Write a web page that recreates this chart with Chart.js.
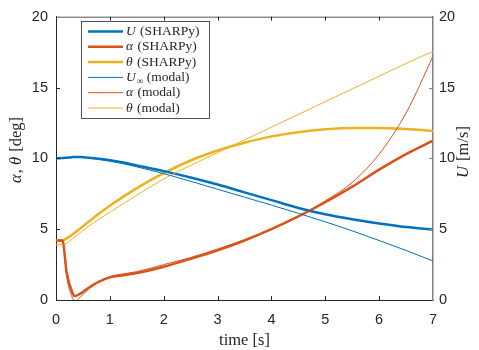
<!DOCTYPE html>
<html><head><meta charset="utf-8">
<script src="https://cdn.jsdelivr.net/npm/chart.js@4.4.0/dist/chart.umd.min.js"></script>
<style>html,body{margin:0;padding:0;background:#fff}#wrap{width:479px;height:350px}</style>
</head><body><div id="wrap"><canvas id="c"></canvas></div>
<script>
// time grid [s] and series
const timeS     =[0,   0.12, 0.2,  0.3,  0.35, 0.45, 0.6,  0.8,  1.0,  1.25, 1.5, 2.0,  2.5,  3.0,  3.5,  4.0,  4.5,  5.0,  5.5,  6.0,  6.5,  7.0];
const uSharpy   =[10.0,10.02,10.05,10.08,10.1, 10.1, 10.05,9.97, 9.87, 9.7,  9.5, 9.1,  8.65, 8.15, 7.6,  7.05, 6.5,  6.05, 5.7,  5.4,  5.15, 4.98];
const alphaSharpy=[4.2,4.2,  1.9,  0.55, 0.28, 0.45, 0.85, 1.3,  1.6,  1.75, 1.9, 2.35, 2.9,  3.5,  4.2,  5.0,  5.9,  6.9,  8.0,  9.2,  10.3, 11.25];
const thetaSharpy=[4.2,4.2,  4.35, 4.6,  4.75, 5.05, 5.5,  6.1,  6.65, 7.3,  7.9, 8.95, 9.85, 10.55,11.1, 11.55,11.85,12.05,12.15,12.15,12.07,11.93];
const uModal    =[10.0,10.02,10.05,10.07,10.08,10.07,10.02,9.92, 9.8,  9.62, 9.4, 8.92, 8.38, 7.82, 7.26, 6.7,  6.12, 5.52, 4.88, 4.2,  3.5,  2.75];
const alphaModal=[4.2, 4.2,  1.6,  0.2,  -0.08,0.2,  0.75, 1.3,  1.65, 1.85, 2.0, 2.5,  3.0,  3.6,  4.25, 5.0,  5.9,  7.0,  8.3,  10.3, 13.2, 17.2];
const thetaModal=[3.9, 3.9,  4.0,  4.3,  4.45, 4.75, 5.2,  5.7,  6.2,  6.8,  7.4, 8.55, 9.5,  10.4, 11.3, 12.2, 13.1, 14.0, 14.9, 15.8, 16.7, 17.55];
const xTicks=[0,1,2,3,4,5,6,7];
const yTicks=[0,5,10,15,20];

const C_BLUE='#0072BD', C_RED='#D95319', C_YEL='#EDB120', INK='#262626';
const SERIF='"Liberation Serif","DejaVu Serif",serif';
const SANS='"Liberation Sans",Arial,sans-serif';

const pts=arr=>arr.map((v,i)=>({x:timeS[i],y:v}));
function ds(label,arr,color,w,axis,ord){
  return {label,data:pts(arr),borderColor:color,backgroundColor:color,borderWidth:w,
    pointRadius:0,cubicInterpolationMode:'monotone',yAxisID:axis,order:ord,fill:false};
}

// legend rows: [parts, color, width]
const legendRows=[
  [[['U',1],[' (SHARPy)',0]],C_BLUE,2.5],
  [[['α',1],[' (SHARPy)',0]],C_RED,2.5],
  [[['θ',1],[' (SHARPy)',0]],C_YEL,2.5],
  [[['U',1],['∞',0,1],[' (modal)',0]],C_BLUE,1],
  [[['α',1],[' (modal)',0]],C_RED,1],
  [[['θ',1],[' (modal)',0]],C_YEL,1]
];

function richWidth(ctx,parts,size){
  let w=0;
  parts.forEach(p=>{ctx.font=(p[1]?'italic ':'')+(p[2]?size*0.7:size)+'px '+SERIF;w+=ctx.measureText(p[0]).width+(p[1]?1:0);});
  return w;
}
function drawRich(ctx,x,y,parts,size){
  ctx.textBaseline='middle';ctx.textAlign='left';
  parts.forEach(p=>{
    const s=p[2]?size*0.7:size;
    ctx.font=(p[1]?'italic ':'')+s+'px '+SERIF;
    ctx.fillText(p[0],x,p[2]?y+size*0.3:y);
    x+=ctx.measureText(p[0]).width+(p[1]?1:0);
  });
}

const decor={
  id:'decor',
  afterDraw(chart){
    const ctx=chart.ctx, a=chart.chartArea;
    const sx=chart.scales.x, sy=chart.scales.y;
    ctx.save();
    // top border
    ctx.strokeStyle='#555';ctx.lineWidth=1;
    ctx.beginPath();ctx.moveTo(a.left,a.top+0.5);ctx.lineTo(a.right,a.top+0.5);ctx.stroke();
    // inward ticks
    ctx.strokeStyle=INK;
    xTicks.slice(1,-1).forEach(v=>{
      const px=Math.round(sx.getPixelForValue(v))+0.5;
      ctx.beginPath();ctx.moveTo(px,a.bottom);ctx.lineTo(px,a.bottom-4);
      ctx.moveTo(px,a.top);ctx.lineTo(px,a.top+4);ctx.stroke();
    });
    yTicks.slice(1,-1).forEach(v=>{
      const py=Math.round(sy.getPixelForValue(v))+0.5;
      ctx.strokeStyle=INK;
      ctx.beginPath();ctx.moveTo(a.left,py);ctx.lineTo(a.left+4,py);ctx.stroke();
      ctx.strokeStyle='#808080';
      ctx.beginPath();ctx.moveTo(a.right,py);ctx.lineTo(a.right-4,py);ctx.stroke();
    });
    // legend box
    const bx=81,by=21,bw=128,bh=97;
    ctx.fillStyle='#fff';ctx.fillRect(bx,by,bw,bh);
    ctx.strokeStyle=INK;ctx.lineWidth=0.8;ctx.strokeRect(bx+0.5,by+0.5,bw,bh);
    legendRows.forEach((r,i)=>{
      const yy=by+10.5+i*15.3;
      ctx.strokeStyle=r[1];ctx.lineWidth=r[2];
      ctx.beginPath();ctx.moveTo(88,yy);ctx.lineTo(123,yy);ctx.stroke();
      ctx.fillStyle=INK;
      drawRich(ctx,126,yy,r[0],13.5);
    });
    // axis titles
    ctx.fillStyle=INK;
    const xt=[['time [s]',0]];
    drawRich(ctx,(a.left+a.right)/2-richWidth(ctx,xt,16.5)/2,341,xt,16.5);
    const yl=[['α',1],[', ',0],['θ',1],[' [deg]',0]];
    ctx.save();ctx.translate(17,150);ctx.rotate(-Math.PI/2);
    drawRich(ctx,-richWidth(ctx,yl,16.5)/2,0,yl,16.5);ctx.restore();
    const yr=[['U',1],[' [m/s]',0]];
    ctx.save();ctx.translate(464,152);ctx.rotate(-Math.PI/2);
    drawRich(ctx,-richWidth(ctx,yr,16.5)/2,0,yr,16.5);ctx.restore();
    ctx.restore();
  }
};

const tickFont={family:SANS,size:14.5};
new Chart(document.getElementById('c'),{
  type:'line',
  data:{datasets:[
    ds('U (SHARPy)',uSharpy,C_BLUE,2.5,'y1',2),
    ds('α (SHARPy)',alphaSharpy,C_RED,2.5,'y',2),
    ds('θ (SHARPy)',thetaSharpy,C_YEL,2.5,'y',2),
    ds('U∞ (modal)',uModal,C_BLUE,1,'y1',1),
    ds('α (modal)',alphaModal,C_RED,1,'y',1),
    ds('θ (modal)',thetaModal,C_YEL,1,'y',1)
  ]},
  options:{
    responsive:true,maintainAspectRatio:false,animation:false,devicePixelRatio:1,
    layout:{padding:{top:12,left:0,right:0,bottom:0}},
    plugins:{legend:{display:false},tooltip:{enabled:false}},
    scales:{
      x:{type:'linear',min:0,max:7,
        afterBuildTicks:s=>{s.ticks=xTicks.map(v=>({value:v}));},
        afterFit:s=>{s.height=50;},
        ticks:{font:tickFont,color:INK,padding:11,maxRotation:0},
        grid:{display:false,drawTicks:false},border:{color:INK,width:1}},
      y:{position:'left',min:0,max:20,
        afterBuildTicks:s=>{s.ticks=yTicks.map(v=>({value:v}));},
        afterFit:s=>{s.width=56;},
        ticks:{font:tickFont,color:INK,padding:8},
        grid:{display:false,drawTicks:false},border:{color:INK,width:1}},
      y1:{position:'right',min:0,max:20,
        afterBuildTicks:s=>{s.ticks=yTicks.map(v=>({value:v}));},
        afterFit:s=>{s.width=46;},
        ticks:{font:tickFont,color:INK,padding:6},
        grid:{display:false,drawTicks:false},border:{color:'#808080',width:1.5}}
    }
  },
  plugins:[decor]
});
</script></body></html>
